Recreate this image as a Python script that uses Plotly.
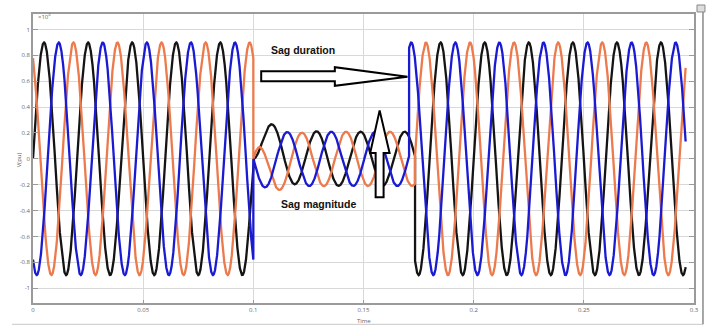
import numpy as np
import plotly.graph_objects as go

# ---- data ----
phase_names = ["black", "orange", "blue"]
phase_colors = ["#141414", "#EC7A4C", "#1A1AD2"]
phase_angle_deg = [0.0, 120.0, -120.0]      # phase offset of each phase
pre_amplitude = [0.9, 0.9, 0.9]             # pu, before / after sag
sag_amplitude = [0.21, 0.21, 0.21]          # pu, during sag
sag_phase_shift_deg = [-66.6, -66.6, -66.6] # phase jump during sag
sag_start = [0.1, 0.1, 0.1]                 # s
sag_end = [0.1734, 0.1734, 0.1707]          # s (recovery instant of each phase)
transient_tau = [0.007, 0.007, 0.007]       # decay of the sag-start offset
freq_hz = 50.0
t_end = 0.2962

x_ticks = [0, 0.05, 0.1, 0.15, 0.2, 0.25, 0.3]
x_tick_text = ["0", "0.05", "0.1", "0.15", "0.2", "0.25", "0.3"]
y_ticks = [-1, -0.8, -0.6, -0.4, -0.2, 0, 0.2, 0.4, 0.6, 0.8, 1]
y_tick_text = ["-1", "-0.8", "-0.6", "-0.4", "-0.2", "0", "0.2", "0.4", "0.6", "0.8", "1"]

t = np.arange(0, t_end, 1e-5)
w = 2 * np.pi * freq_hz

fig = go.Figure()
for k in range(3):
    th = np.deg2rad(phase_angle_deg[k])
    normal = pre_amplitude[k] * np.sin(w * t + th)
    ts = sag_start[k]
    ph = th + np.deg2rad(sag_phase_shift_deg[k])
    steady = sag_amplitude[k] * np.sin(w * (t - ts) + ph)
    offset = -sag_amplitude[k] * np.sin(ph) * np.exp(-(t - ts) / transient_tau[k])
    sag = steady + offset
    in_sag = (t > ts) & (t < sag_end[k])
    y = np.where(in_sag, sag, normal)
    fig.add_trace(go.Scatter(x=t, y=y, mode="lines", name=phase_names[k],
                             line=dict(color=phase_colors[k], width=2.3),
                             hoverinfo="skip", showlegend=False))

# arrows (hollow block arrows) in data coordinates
def px2x(px):
    return (px - 32.7) / 2214.0

def px2y(py):
    return (158.8 - py) / 128.9

h_arrow = [(262, 71.5), (336, 71.5), (336, 67.5), (409, 77), (336, 86), (336, 81.5), (262, 81.5)]
v_arrow = [(377, 197), (377, 153), (371.5, 153), (381, 110.5), (391, 153), (385, 153), (385, 197)]

def path(pts):
    s = "M " + " L ".join(f"{px2x(a):.5f},{px2y(b):.4f}" for a, b in pts) + " Z"
    return s

shapes = []
for pts in (h_arrow, v_arrow):
    shapes.append(dict(type="path", path=path(pts), xref="x", yref="y",
                       line=dict(color="#000000", width=2), fillcolor="white", layer="above"))

# outer frame lines (paper coords)
def pxp(px):
    return (px - 33) / 663.0

def pyp(py):
    return (302.7 - py) / 288.7

shapes.append(dict(type="line", xref="paper", yref="paper", x0=pxp(12), x1=pxp(705),
                   y0=pyp(324), y1=pyp(324), line=dict(color="#c8c8c8", width=1)))
shapes.append(dict(type="line", xref="paper", yref="paper", x0=pxp(705), x1=pxp(705),
                   y0=pyp(12), y1=pyp(324), line=dict(color="#8a8a8a", width=1.5)))
shapes.append(dict(type="rect", xref="paper", yref="paper", x0=pxp(699), x1=pxp(707),
                   y0=pyp(5), y1=pyp(12), line=dict(color="#888", width=1), fillcolor="#ddd"))

annotations = [
    dict(text="<b>Sag duration</b>", x=px2x(304), y=px2y(50), xref="x", yref="y",
         showarrow=False, font=dict(family="Liberation Sans, Arial", size=10.5, color="#111")),
    dict(text="<b>Sag magnitude</b>", x=px2x(320), y=px2y(204), xref="x", yref="y",
         showarrow=False, font=dict(family="Liberation Sans, Arial", size=10.5, color="#111")),
    dict(text="×10<sup>4</sup>", x=pxp(36), y=pyp(10), xref="paper", yref="paper",
         showarrow=False, font=dict(size=6, color="#666")),
    dict(text="V(pu)", x=pxp(13), y=pyp(160), xref="paper", yref="paper", textangle=-90,
         showarrow=False, font=dict(size=6, color="#666")),
    dict(text="Time", x=pxp(365), y=pyp(326), xref="paper", yref="paper", yanchor="bottom",
         borderpad=0, showarrow=False, font=dict(size=6, color="#666")),
]

fig.update_layout(
    width=711, height=326,
    margin=dict(l=33, r=15, t=14, b=23),
    paper_bgcolor="white", plot_bgcolor="white",
    shapes=shapes, annotations=annotations,
    xaxis=dict(range=[0, 0.3], tickvals=x_ticks, ticktext=x_tick_text,
               showgrid=True, gridcolor="#d9d9d9", gridwidth=1,
               showline=True, linecolor="#9a9a9a", linewidth=1.5, mirror=True,
               ticks="inside", ticklen=3, tickcolor="#9a9a9a", zeroline=False,
               tickfont=dict(size=6, color="#666"), fixedrange=True),
    yaxis=dict(range=[-1.115, 1.12], tickvals=y_ticks, ticktext=y_tick_text,
               showgrid=True, gridcolor="#d9d9d9", gridwidth=1,
               showline=True, linecolor="#9a9a9a", linewidth=1.5, mirror="ticks",
               ticks="inside", ticklen=5, tickcolor="#9a9a9a", zeroline=False,
               tickfont=dict(size=6, color="#666"), fixedrange=True),
)

fig.write_html("out.html", config=dict(displayModeBar=False))
